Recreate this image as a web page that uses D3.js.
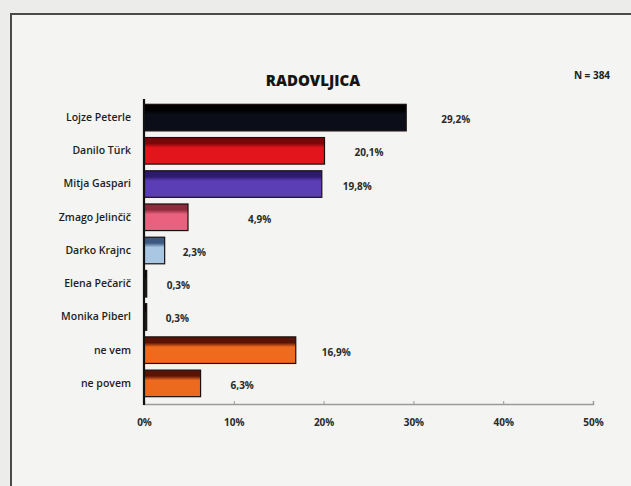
<!DOCTYPE html>
<html><head><meta charset="utf-8">
<script src="https://cdn.jsdelivr.net/npm/d3@7"></script>
<style>
html,body{margin:0;padding:0;background:#ececea;}
svg{display:block;}
text{font-family:"Open Sans","Lato",sans-serif;}
</style></head>
<body>
<svg id="chart" width="631" height="486"></svg>
<script>
const categories = ["Lojze Peterle","Danilo Türk","Mitja Gaspari","Zmago Jelinčič","Darko Krajnc","Elena Pečarič","Monika Piberl","ne vem","ne povem"];
const values = [29.2,20.1,19.8,4.9,2.3,0.3,0.3,16.9,6.3];
const valueLabels = ["29,2%","20,1%","19,8%","4,9%","2,3%","0,3%","0,3%","16,9%","6,3%"];
const tickValues = [0,10,20,30,40,50];
const tickLabels = ["0%","10%","20%","30%","40%","50%"];
const title = "RADOVLJICA";
const note = "N = 384";

// styling (not data)
const barColors = ["#0b0d18","#e3151c","#5b3db5","#e9617f","#a9c6e2","#1a1a1a","#1a1a1a","#ef6a1c","#ec6a1e"];
const barTops   = ["#000000","#7d0508","#2c1a6e","#8d2a3c","#3c5a80","#000000","#000000","#5a1406","#5a1406"];
const labelDx = [35,30,21,60,18,20,19,26,30];

const svg = d3.select("#chart");
const W = 631, H = 486;

// frame
svg.append("rect").attr("x",11).attr("y",14).attr("width",W).attr("height",H).attr("fill","#f4f4f2");
svg.append("path").attr("d",`M11,${H} V14 H${W}`).attr("fill","none").attr("stroke","#4a4a4a").attr("stroke-width",2);

const x = d3.scaleLinear().domain([0,50]).range([144,593]);
const y = d3.scaleBand().domain(categories).range([101,400]).paddingInner(0.2).paddingOuter(0.1);

const defs = svg.append("defs");
categories.forEach((c,i)=>{
  const g = defs.append("linearGradient").attr("id","g"+i).attr("x1",0).attr("y1",0).attr("x2",0).attr("y2",1);
  g.append("stop").attr("offset","0%").attr("stop-color",barTops[i]);
  g.append("stop").attr("offset","22%").attr("stop-color",barTops[i]);
  g.append("stop").attr("offset","38%").attr("stop-color",barColors[i]);
  g.append("stop").attr("offset","100%").attr("stop-color",barColors[i]);
});

// title
svg.append("text").attr("x",313).attr("y",86).attr("text-anchor","middle")
  .attr("font-size",15).attr("font-weight",800).attr("fill","#151515").text(title);
svg.append("text").attr("x",592).attr("y",79).attr("text-anchor","middle")
  .attr("font-size",10).attr("font-weight",700).attr("fill","#222").text(note);

// x axis
const xAxis = d3.axisBottom(x).tickValues(tickValues).tickSize(-3).tickPadding(15)
  .tickFormat((d,i)=>tickLabels[i]);
const gx = svg.append("g").attr("transform","translate(0,404)").call(xAxis);
gx.select(".domain").attr("stroke","#9a9a9a").attr("stroke-width",1.5);
gx.selectAll(".tick line").attr("stroke","#9a9a9a");
gx.selectAll(".tick text").attr("font-size",10).attr("font-weight",700).attr("fill","#2a2a2a")
  .attr("font-family","'Open Sans',sans-serif");

// bars
svg.append("g").selectAll("rect").data(values).join("rect")
  .attr("x",x(0)).attr("y",(d,i)=>y(categories[i]))
  .attr("width",d=>Math.max(2,x(d)-x(0))).attr("height",y.bandwidth())
  .attr("fill",(d,i)=>`url(#g${i})`)
  .attr("stroke","#1a1010").attr("stroke-width",1.2);

// value labels
svg.append("g").selectAll("text").data(values).join("text")
  .attr("x",(d,i)=>x(d)+labelDx[i]).attr("y",(d,i)=>y(categories[i])+y.bandwidth()/2+2)
  .attr("dy","0.35em").attr("font-size",10).attr("font-weight",700).attr("fill","#2a2a2a")
  .text((d,i)=>valueLabels[i]);

// category labels
const yAxis = d3.axisLeft(y).tickSize(0).tickPadding(13);
const gy = svg.append("g").attr("transform",`translate(${x(0)},0)`).call(yAxis);
gy.select(".domain").remove();
gy.selectAll(".tick text").attr("font-size",10.5).attr("font-weight",600).attr("fill","#1e1e1e")
  .attr("font-family","'Open Sans',sans-serif");

// vertical axis line
svg.append("line").attr("x1",x(0)).attr("x2",x(0)).attr("y1",99).attr("y2",405)
  .attr("stroke","#111").attr("stroke-width",2.2);
</script>
</body></html>
